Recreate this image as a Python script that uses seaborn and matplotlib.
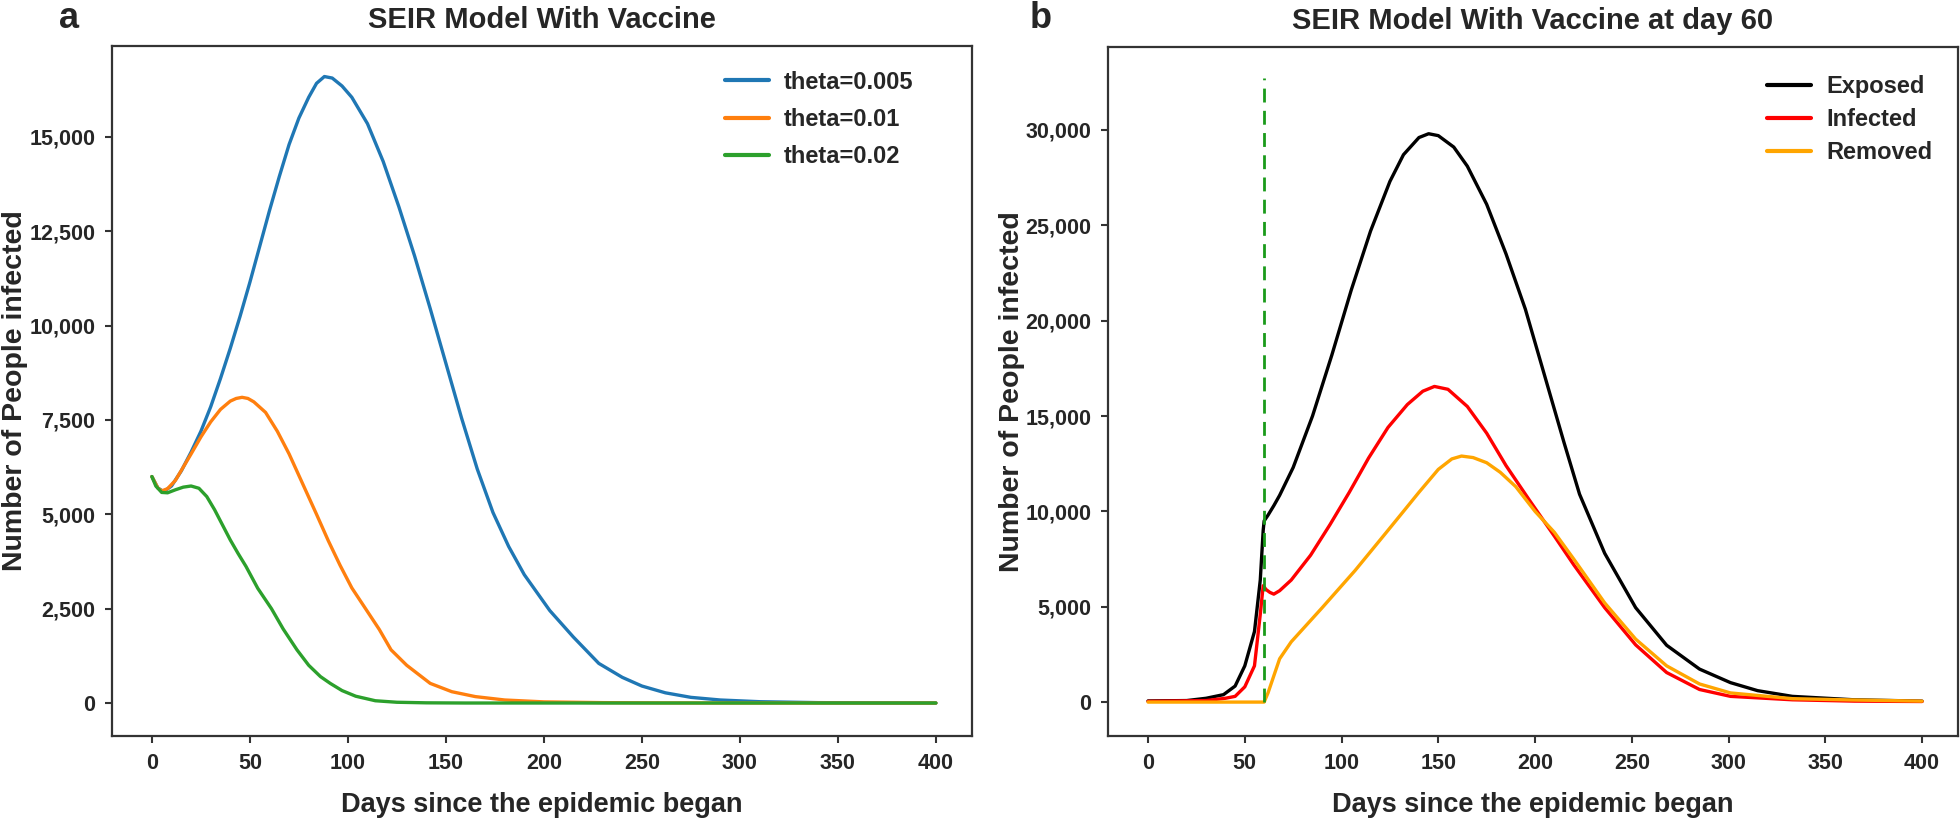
import pandas as pd
import seaborn as sns
import matplotlib.pyplot as plt
from matplotlib.ticker import StrMethodFormatter

# panel a: infected people for three vaccination rates
theta_labels = ["theta=0.005", "theta=0.01", "theta=0.02"]

blue_days = [0, 3, 6, 10, 15, 20, 25, 30, 35, 40, 45, 50, 55, 60, 65, 70, 75, 80, 84, 88,
             92, 97, 102, 110, 118, 126, 134, 142, 150, 158, 166, 174, 182, 190, 203, 215,
             228, 240, 250, 262, 275, 290, 310, 340, 370, 400]
blue_vals = [6000, 5700, 5600, 5750, 6150, 6650, 7200, 7850, 8600, 9400, 10250, 11150, 12100,
             13050, 13950, 14800, 15500, 16050, 16420, 16600, 16560, 16350, 16050, 15350,
             14350, 13150, 11850, 10450, 9000, 7550, 6200, 5050, 4150, 3400, 2450, 1750,
             1050, 680, 450, 270, 150, 80, 35, 10, 3, 0]

orange_days = [0, 3, 5, 8, 12, 16, 20, 25, 30, 35, 40, 43, 46, 49, 52, 58, 64, 70, 77, 84,
               90, 96, 102, 109, 116, 122, 130, 142, 153, 165, 180, 200, 230, 260, 300, 400]
orange_vals = [6000, 5700, 5620, 5680, 5900, 6250, 6600, 7050, 7450, 7780, 8000, 8070, 8100,
               8070, 7980, 7700, 7200, 6600, 5800, 5000, 4300, 3650, 3050, 2500, 1950, 1410,
               1000, 520, 300, 170, 80, 30, 10, 3, 0, 0]

green_days = [0, 2, 5, 8, 12, 16, 20, 24, 28, 32, 36, 40, 44, 48, 54, 61, 67, 74, 80, 86,
              91, 97, 104, 114, 125, 140, 160, 250, 400]
green_vals = [6000, 5750, 5580, 5570, 5650, 5720, 5750, 5690, 5470, 5120, 4720, 4320, 3960,
              3620, 3040, 2500, 1960, 1410, 1000, 700, 520, 330, 180, 60, 20, 5, 0, 0, 0]

# panel b: compartments with vaccine from day 60
vaccine_day = 60
vaccine_line_top = 32700

exposed_days = [0, 20, 30, 39, 45, 50, 55, 58, 59.5, 60, 62, 65, 68, 75, 85, 95, 105, 115,
                125, 132, 140, 145, 150, 158, 165, 175, 185, 195, 205, 215, 223, 236, 252,
                268, 285, 301, 315, 333, 365, 400]
exposed_vals = [60, 80, 200, 390, 840, 1900, 3700, 6400, 9000, 9500, 9800, 10300, 10840,
                12300, 15000, 18200, 21600, 24700, 27300, 28700, 29600, 29800, 29700, 29100,
                28100, 26100, 23500, 20600, 17100, 13600, 10900, 7800, 4950, 2980, 1730, 1020,
                600, 300, 120, 50]

infected_days = [0, 30, 40, 45, 50, 55, 58, 59.5, 61, 63, 65, 68, 74, 84, 94, 104, 114,
                 124, 134, 142, 148, 155, 165, 175, 185, 197, 210, 220, 236, 252, 268, 285,
                 301, 333, 365, 400]
infected_vals = [40, 80, 200, 300, 800, 1900, 4600, 6100, 5900, 5750, 5660, 5840, 6400, 7700,
                 9300, 11000, 12800, 14400, 15600, 16300, 16550, 16400, 15500, 14100, 12400,
                 10600, 8700, 7200, 4950, 3000, 1550, 660, 300, 120, 50, 30]

removed_days = [0, 30, 60, 62, 68, 74, 90, 107, 123, 132, 140, 150, 157, 162, 168, 175, 182,
                190, 200, 210, 220, 236, 252, 268, 285, 301, 333, 365, 400]
removed_vals = [0, 0, 0, 480, 2270, 3160, 4950, 6900, 8880, 10000, 11000, 12200, 12750, 12900,
                12820, 12550, 12050, 11300, 10000, 8900, 7500, 5200, 3300, 1900, 950, 480,
                180, 110, 50]

seir_labels = ["Exposed", "Infected", "Removed"]

left_df = pd.concat([
    pd.DataFrame({"day": blue_days, "people": blue_vals, "series": theta_labels[0]}),
    pd.DataFrame({"day": orange_days, "people": orange_vals, "series": theta_labels[1]}),
    pd.DataFrame({"day": green_days, "people": green_vals, "series": theta_labels[2]}),
])
right_df = pd.concat([
    pd.DataFrame({"day": exposed_days, "people": exposed_vals, "series": seir_labels[0]}),
    pd.DataFrame({"day": infected_days, "people": infected_vals, "series": seir_labels[1]}),
    pd.DataFrame({"day": removed_days, "people": removed_vals, "series": seir_labels[2]}),
])

sns.set_theme(style="ticks")
plt.rcParams["font.family"] = ["Liberation Sans", "DejaVu Sans"]
plt.rcParams["font.weight"] = "bold"

fig = plt.figure(figsize=(19.6, 8.18), dpi=100)
ax1 = fig.add_axes([0.0571, 0.1002, 0.4388, 0.8436])
ax2 = fig.add_axes([0.5653, 0.1002, 0.4337, 0.8424])

sns.lineplot(data=left_df, x="day", y="people", hue="series", hue_order=theta_labels,
             palette=["#1f77b4", "#ff7f0e", "#2ca02c"], linewidth=2.4, ax=ax1)
sns.lineplot(data=right_df, x="day", y="people", hue="series", hue_order=seir_labels,
             palette=["black", "#ff0000", "#ffa500"], linewidth=2.4, ax=ax2)
ax2.vlines(vaccine_day, 0, vaccine_line_top, colors="#1a9a1a", linestyles=(0, (5, 3)),
           linewidth=2)

ax1.set_xlim(-20.4, 418.4)
ax1.set_ylim(-875, 17410)
ax1.set_yticks([0, 2500, 5000, 7500, 10000, 12500, 15000])
ax2.set_xlim(-20.7, 418.6)
ax2.set_ylim(-1780, 34350)
ax2.set_yticks([0, 5000, 10000, 15000, 20000, 25000, 30000])

titles = ["SEIR Model With Vaccine", "SEIR Model With Vaccine at day 60"]
for ax, title in zip([ax1, ax2], titles):
    ax.set_xticks(range(0, 401, 50))
    ax.yaxis.set_major_formatter(StrMethodFormatter("{x:,.0f}"))
    ax.tick_params(labelsize=15.5, length=5, width=1.5, color="#333333", pad=7)
    for side in ["left", "bottom", "top", "right"]:
        ax.spines[side].set_color("#333333")
        ax.spines[side].set_linewidth(1.6)
    ax.set_title(title, fontsize=21, fontweight="bold", pad=13)
    ax.set_xlabel("Days since the epidemic began", fontsize=19.5, fontweight="bold")
    ax.set_ylabel("Number of People infected", fontsize=20.5, fontweight="bold")
    ax.xaxis.set_label_coords(0.5, -0.081)

ax1.yaxis.set_label_coords(-0.097, 0.5)
ax2.yaxis.set_label_coords(-0.098, 0.5)

leg1 = ax1.legend(loc="upper right", bbox_to_anchor=(0.957, 0.995), frameon=False,
                  fontsize=17, handlelength=1.86, handletextpad=0.64, labelspacing=0.6)
leg2 = ax2.legend(loc="upper right", bbox_to_anchor=(0.995, 0.99), frameon=False,
                  fontsize=17, handlelength=1.86, handletextpad=0.64, labelspacing=0.43)
for leg in [leg1, leg2]:
    for line in leg.get_lines():
        line.set_linewidth(3)

fig.text(59 / 1960, 1 - 28 / 818, "a", fontsize=26, fontweight="bold", va="baseline")
fig.text(1030 / 1960, 1 - 28 / 818, "b", fontsize=26, fontweight="bold", va="baseline")

fig.savefig("out.png", dpi=100, facecolor="white")
